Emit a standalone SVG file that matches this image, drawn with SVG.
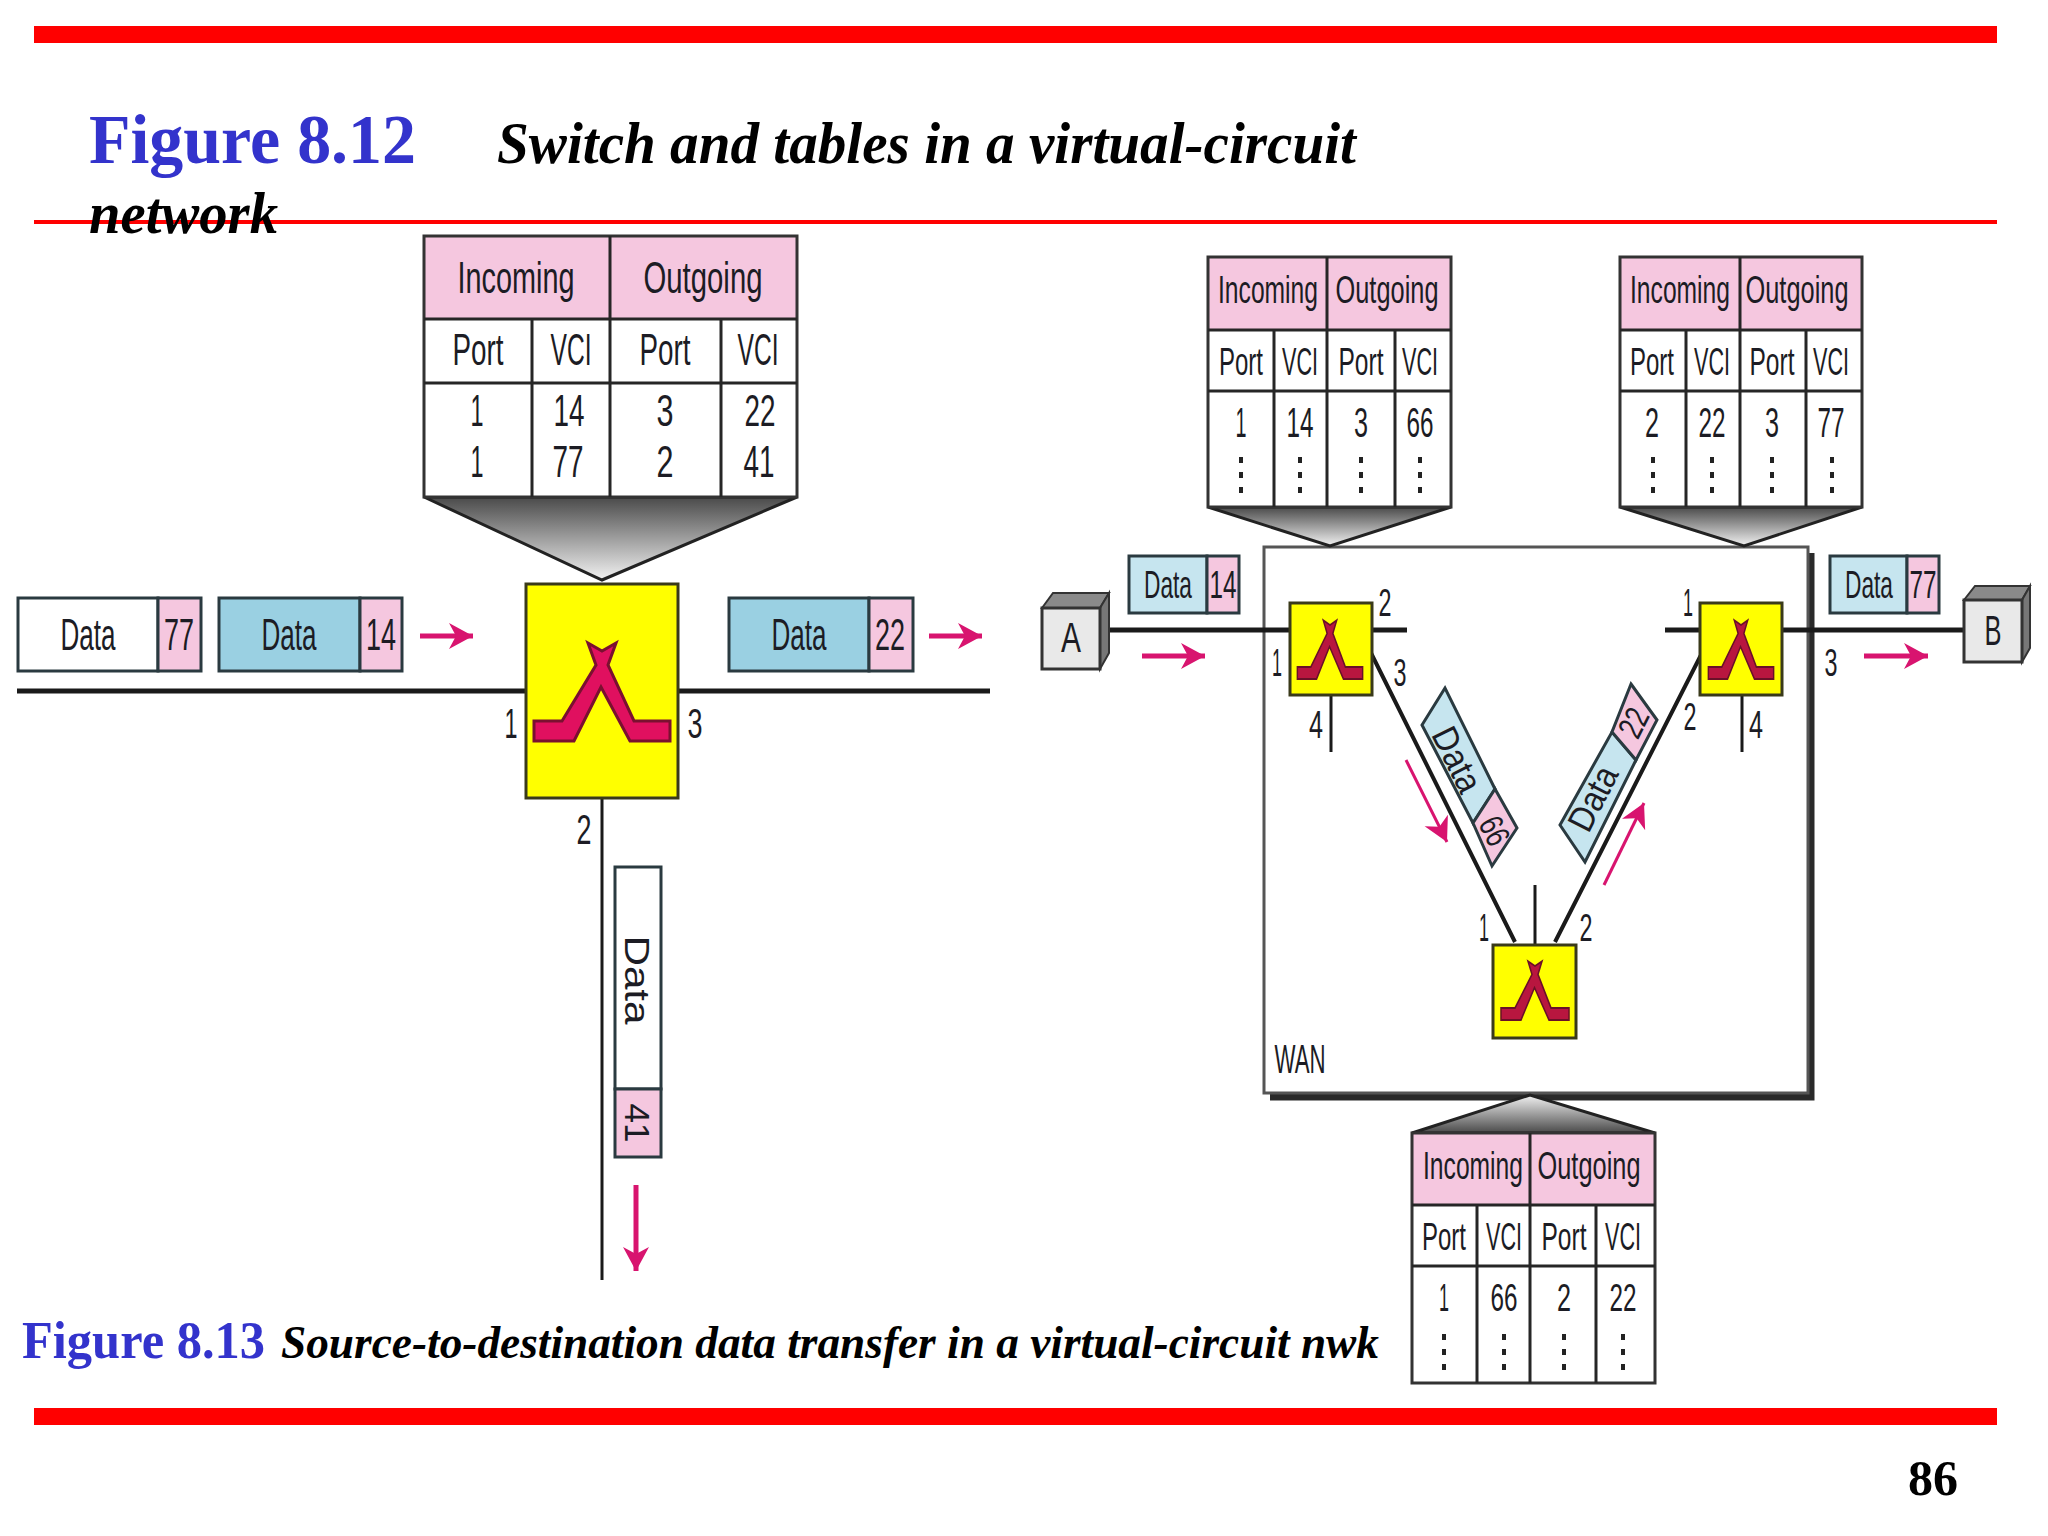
<svg xmlns="http://www.w3.org/2000/svg" width="2048" height="1536" viewBox="0 0 2048 1536">
<style>
.t{font-family:"Liberation Sans Narrow","Liberation Sans",Arial,sans-serif;fill:#1c1c24;text-anchor:middle}
.big{font-size:44px}.mid{font-size:43px}.sm{font-size:39px}
.ser{font-family:"Liberation Serif","Times New Roman",serif;font-weight:700}
.blue{fill:#3333cc}.it{font-style:italic;fill:#000}
.line{stroke:#1a1a1a;fill:none}
.cell{stroke:#262626;stroke-width:3;fill:none}
.frame{stroke:#333;stroke-width:3;fill:none}
.pink{fill:#f5c7df}.white{fill:#fff}.bl1{fill:#9ad0e2}.bl2{fill:#c6e5ef}
.pk{stroke:#2a3a40;stroke-width:3}
.ar{stroke:#d8146f;fill:none;stroke-width:5;marker-end:url(#ah)}
.ar2{stroke:#d8146f;fill:none;stroke-width:3;marker-end:url(#ah)}
.sw{fill:#ffff00;stroke:#3a3a1a;stroke-width:3}
.dot{fill:#222}
</style>
<defs>
<linearGradient id="gd" x1="0" y1="0" x2="0" y2="1"><stop offset="0" stop-color="#4a4a4a"/><stop offset="1" stop-color="#f2f2f2"/></linearGradient>
<linearGradient id="gu" x1="0" y1="1" x2="0" y2="0"><stop offset="0" stop-color="#4a4a4a"/><stop offset="1" stop-color="#f2f2f2"/></linearGradient>
<marker id="ah" markerUnits="userSpaceOnUse" markerWidth="30" markerHeight="30" refX="24" refY="13" orient="auto"><path d="M0 0 L24 13 L0 26 L7 13 Z" fill="#d8146f"/></marker>
<path id="gl" d="M-68 -20 L-40 -20 L-6 -76 L-14 -98 L0 -90 L14 -98 L6 -76 L32 -20 L68 -20 L68 0 L28 0 L-1 -54 L-28 0 L-68 0 Z" fill="#e0105f" stroke="#7a1030" stroke-width="3"/>
<path id="gls" d="M-68 -20 L-40 -20 L-6 -76 L-14 -98 L0 -90 L14 -98 L6 -76 L32 -20 L68 -20 L68 0 L28 0 L-1 -54 L-28 0 L-68 0 Z" fill="#b8163f" stroke="#6a1028" stroke-width="3"/>
</defs>
<rect width="2048" height="1536" fill="#fff"/>

<g id="slide-rules">
<rect x="34" y="26" width="1963" height="17" fill="#ff0000"/>
<rect x="34" y="220" width="1963" height="4" fill="#ff0000"/>
<rect x="34" y="1408" width="1963" height="17" fill="#ff0000"/>
</g>

<g id="titles">
<text x="89" y="163" class="ser blue" font-size="70" textLength="327" lengthAdjust="spacingAndGlyphs">Figure 8.12</text>
<text x="497" y="163" class="ser it" font-size="60" textLength="859" lengthAdjust="spacingAndGlyphs">Switch and tables in a virtual-circuit</text>
<text x="89" y="233" class="ser it" font-size="60" textLength="189" lengthAdjust="spacingAndGlyphs">network</text>
<text x="22" y="1358" class="ser blue" font-size="52" textLength="243" lengthAdjust="spacingAndGlyphs">Figure 8.13</text>
<text x="281" y="1358" class="ser it" font-size="46" textLength="1098" lengthAdjust="spacingAndGlyphs">Source-to-destination data transfer in a virtual-circuit nwk</text>
<text x="1908" y="1495" class="ser" font-size="50" fill="#000">86</text>
</g>

<g id="wan">
<path d="M1270 1097 H1811 V553" fill="none" stroke="#2a2a2a" stroke-width="7"/>
<rect x="1264" y="547" width="544" height="546" fill="#fff" stroke="#555" stroke-width="3"/>
<text x="1300" y="1073" class="t" font-size="40" textLength="51" lengthAdjust="spacingAndGlyphs">WAN</text>
</g>

<g id="connectors">
<path class="line" stroke-width="5" d="M17 691 H526 M679 691 H990"/>
<path class="line" stroke-width="3" d="M602 798 V1280"/>
<path class="line" stroke-width="5" d="M1105 630 H1407 M1665 630 H1968"/>
<path class="line" stroke-width="3" d="M1331 695 V752 M1742 695 V752 M1535 885 V945"/>
<path class="line" stroke-width="4" d="M1371 653 L1515 942 M1702 653 L1555 942"/>
<line class="ar" x1="420" y1="636" x2="473" y2="636"/>
<line class="ar" x1="929" y1="636" x2="982" y2="636"/>
<line class="ar" x1="636" y1="1185" x2="636" y2="1271"/>
<line class="ar" x1="1142" y1="656" x2="1205" y2="656"/>
<line class="ar" x1="1864" y1="656" x2="1928" y2="656"/>
<line class="ar2" x1="1406" y1="760" x2="1447" y2="842"/>
<line class="ar2" x1="1604" y1="885" x2="1644" y2="803"/>
</g>

<g id="table-main">
<path d="M424 497 H797 L602 580 Z" fill="url(#gd)" stroke="#222" stroke-width="3"/>
<rect x="424" y="236" width="373" height="261" class="white"/>
<rect x="424" y="236" width="373" height="83" class="pink"/>
<rect x="424" y="236" width="373" height="261" class="frame"/>
<path class="cell" d="M424 319 H797 M424 383 H797 M610 236 V497 M532 319 V497 M721 319 V497"/>
<text x="516" y="293" class="t big" textLength="117" lengthAdjust="spacingAndGlyphs">Incoming</text>
<text x="703" y="293" class="t big" textLength="119" lengthAdjust="spacingAndGlyphs">Outgoing</text>
<text x="478" y="365" class="t big" textLength="51" lengthAdjust="spacingAndGlyphs">Port</text>
<text x="571" y="365" class="t big" textLength="41" lengthAdjust="spacingAndGlyphs">VCI</text>
<text x="665" y="365" class="t big" textLength="51" lengthAdjust="spacingAndGlyphs">Port</text>
<text x="758" y="365" class="t big" textLength="41" lengthAdjust="spacingAndGlyphs">VCI</text>
<text x="477" y="426" class="t big" textLength="13" lengthAdjust="spacingAndGlyphs">1</text><text x="569" y="426" class="t big" textLength="31" lengthAdjust="spacingAndGlyphs">14</text><text x="665" y="426" class="t big" textLength="17" lengthAdjust="spacingAndGlyphs">3</text><text x="760" y="426" class="t big" textLength="31" lengthAdjust="spacingAndGlyphs">22</text>
<text x="477" y="477" class="t big" textLength="13" lengthAdjust="spacingAndGlyphs">1</text><text x="568" y="477" class="t big" textLength="31" lengthAdjust="spacingAndGlyphs">77</text><text x="665" y="477" class="t big" textLength="17" lengthAdjust="spacingAndGlyphs">2</text><text x="759" y="477" class="t big" textLength="31" lengthAdjust="spacingAndGlyphs">41</text>
</g>

<g id="switch-main">
<rect x="526" y="584" width="152" height="214" class="sw"/>
<use href="#gl" transform="translate(602 741)"/>
<text x="511" y="738" class="t mid" textLength="13" lengthAdjust="spacingAndGlyphs">1</text>
<text x="695" y="738" class="t mid" textLength="15" lengthAdjust="spacingAndGlyphs">3</text>
<text x="584" y="844" class="t mid" textLength="15" lengthAdjust="spacingAndGlyphs">2</text>
</g>

<g id="packets-main">
<rect x="18" y="598" width="140" height="73" class="white pk"/><rect x="158" y="598" width="43" height="73" class="pink pk"/>
<text x="88" y="650" class="t big" textLength="55" lengthAdjust="spacingAndGlyphs">Data</text><text x="179" y="650" class="t big" textLength="30" lengthAdjust="spacingAndGlyphs">77</text>
<rect x="219" y="598" width="141" height="73" class="bl1 pk"/><rect x="360" y="598" width="42" height="73" class="pink pk"/>
<text x="289" y="650" class="t big" textLength="55" lengthAdjust="spacingAndGlyphs">Data</text><text x="381" y="650" class="t big" textLength="30" lengthAdjust="spacingAndGlyphs">14</text>
<rect x="729" y="598" width="140" height="73" class="bl1 pk"/><rect x="869" y="598" width="44" height="73" class="pink pk"/>
<text x="799" y="650" class="t big" textLength="55" lengthAdjust="spacingAndGlyphs">Data</text><text x="890" y="650" class="t big" textLength="30" lengthAdjust="spacingAndGlyphs">22</text>
<rect x="615" y="867" width="46" height="222" class="white pk"/><rect x="615" y="1089" width="46" height="68" class="pink pk"/>
<text transform="translate(625 980) rotate(90)" font-family="Liberation Sans, sans-serif" font-size="35" fill="#1c1c24" text-anchor="middle" textLength="89" lengthAdjust="spacingAndGlyphs">Data</text>
<text transform="translate(625 1123) rotate(90)" font-family="Liberation Sans, sans-serif" font-size="35" fill="#1c1c24" text-anchor="middle">41</text>
</g>

<g id="table-1">
<path d="M1208 507 H1451 L1330 546 Z" fill="url(#gd)" stroke="#222" stroke-width="3"/>
<rect x="1208" y="257" width="243" height="250" class="white"/>
<rect x="1208" y="257" width="243" height="73" class="pink"/>
<rect x="1208" y="257" width="243" height="250" class="frame"/>
<path class="cell" d="M1208 330 H1451 M1208 391 H1451 M1327 257 V507 M1274 330 V507 M1395 330 V507"/>
<text x="1268" y="303" class="t sm" textLength="100" lengthAdjust="spacingAndGlyphs">Incoming</text><text x="1387" y="303" class="t sm" textLength="103" lengthAdjust="spacingAndGlyphs">Outgoing</text>
<text x="1241" y="375" class="t sm" textLength="44" lengthAdjust="spacingAndGlyphs">Port</text><text x="1300" y="375" class="t sm" textLength="36" lengthAdjust="spacingAndGlyphs">VCI</text><text x="1361" y="375" class="t sm" textLength="45" lengthAdjust="spacingAndGlyphs">Port</text><text x="1420" y="375" class="t sm" textLength="36" lengthAdjust="spacingAndGlyphs">VCI</text>
<text x="1241" y="437" class="t mid" textLength="11" lengthAdjust="spacingAndGlyphs">1</text><text x="1300" y="437" class="t mid" textLength="27" lengthAdjust="spacingAndGlyphs">14</text><text x="1361" y="437" class="t mid" textLength="14" lengthAdjust="spacingAndGlyphs">3</text><text x="1420" y="437" class="t mid" textLength="27" lengthAdjust="spacingAndGlyphs">66</text>
<path class="dot" d="M1239 457h4v6h-4zM1239 472h4v6h-4zM1239 487h4v6h-4zM1298 457h4v6h-4zM1298 472h4v6h-4zM1298 487h4v6h-4zM1359 457h4v6h-4zM1359 472h4v6h-4zM1359 487h4v6h-4zM1418 457h4v6h-4zM1418 472h4v6h-4zM1418 487h4v6h-4z"/>
</g>

<g id="table-2">
<path d="M1620 507 H1862 L1744 546 Z" fill="url(#gd)" stroke="#222" stroke-width="3"/>
<rect x="1620" y="257" width="242" height="250" class="white"/>
<rect x="1620" y="257" width="242" height="73" class="pink"/>
<rect x="1620" y="257" width="242" height="250" class="frame"/>
<path class="cell" d="M1620 330 H1862 M1620 391 H1862 M1740 257 V507 M1686 330 V507 M1806 330 V507"/>
<text x="1680" y="303" class="t sm" textLength="100" lengthAdjust="spacingAndGlyphs">Incoming</text><text x="1797" y="303" class="t sm" textLength="103" lengthAdjust="spacingAndGlyphs">Outgoing</text>
<text x="1652" y="375" class="t sm" textLength="44" lengthAdjust="spacingAndGlyphs">Port</text><text x="1712" y="375" class="t sm" textLength="36" lengthAdjust="spacingAndGlyphs">VCI</text><text x="1772" y="375" class="t sm" textLength="45" lengthAdjust="spacingAndGlyphs">Port</text><text x="1831" y="375" class="t sm" textLength="36" lengthAdjust="spacingAndGlyphs">VCI</text>
<text x="1652" y="437" class="t mid" textLength="14" lengthAdjust="spacingAndGlyphs">2</text><text x="1712" y="437" class="t mid" textLength="27" lengthAdjust="spacingAndGlyphs">22</text><text x="1772" y="437" class="t mid" textLength="14" lengthAdjust="spacingAndGlyphs">3</text><text x="1831" y="437" class="t mid" textLength="27" lengthAdjust="spacingAndGlyphs">77</text>
<path class="dot" d="M1651 457h4v6h-4zM1651 472h4v6h-4zM1651 487h4v6h-4zM1710 457h4v6h-4zM1710 472h4v6h-4zM1710 487h4v6h-4zM1770 457h4v6h-4zM1770 472h4v6h-4zM1770 487h4v6h-4zM1830 457h4v6h-4zM1830 472h4v6h-4zM1830 487h4v6h-4z"/>
</g>

<g id="table-3">
<path d="M1412 1133 H1655 L1530 1095 Z" fill="url(#gu)" stroke="#222" stroke-width="3"/>
<rect x="1412" y="1133" width="243" height="250" class="white"/>
<rect x="1412" y="1133" width="243" height="72" class="pink"/>
<rect x="1412" y="1133" width="243" height="250" class="frame"/>
<path class="cell" d="M1412 1205 H1655 M1412 1266 H1655 M1530 1133 V1383 M1477 1205 V1383 M1596 1205 V1383"/>
<text x="1473" y="1179" class="t sm" textLength="100" lengthAdjust="spacingAndGlyphs">Incoming</text><text x="1589" y="1179" class="t sm" textLength="103" lengthAdjust="spacingAndGlyphs">Outgoing</text>
<text x="1444" y="1250" class="t sm" textLength="44" lengthAdjust="spacingAndGlyphs">Port</text><text x="1504" y="1250" class="t sm" textLength="36" lengthAdjust="spacingAndGlyphs">VCI</text><text x="1564" y="1250" class="t sm" textLength="45" lengthAdjust="spacingAndGlyphs">Port</text><text x="1623" y="1250" class="t sm" textLength="36" lengthAdjust="spacingAndGlyphs">VCI</text>
<text x="1444" y="1311" class="t sm" textLength="10" lengthAdjust="spacingAndGlyphs">1</text><text x="1504" y="1311" class="t sm" textLength="27" lengthAdjust="spacingAndGlyphs">66</text><text x="1564" y="1311" class="t sm" textLength="14" lengthAdjust="spacingAndGlyphs">2</text><text x="1623" y="1311" class="t sm" textLength="27" lengthAdjust="spacingAndGlyphs">22</text>
<path class="dot" d="M1442 1334h4v6h-4zM1442 1349h4v6h-4zM1442 1364h4v6h-4zM1502 1334h4v6h-4zM1502 1349h4v6h-4zM1502 1364h4v6h-4zM1562 1334h4v6h-4zM1562 1349h4v6h-4zM1562 1364h4v6h-4zM1621 1334h4v6h-4zM1621 1349h4v6h-4zM1621 1364h4v6h-4z"/>
</g>

<g id="switch-1">
<rect x="1290" y="603" width="82" height="92" class="sw"/>
<use href="#gls" transform="translate(1330 679) scale(.48 .6)"/>
<text x="1277" y="676" class="t sm" textLength="10" lengthAdjust="spacingAndGlyphs">1</text><text x="1385" y="616" class="t sm" textLength="13" lengthAdjust="spacingAndGlyphs">2</text><text x="1400" y="686" class="t sm" textLength="13" lengthAdjust="spacingAndGlyphs">3</text><text x="1316" y="738" class="t sm" textLength="14" lengthAdjust="spacingAndGlyphs">4</text>
</g>
<g id="switch-2">
<rect x="1700" y="603" width="82" height="92" class="sw"/>
<use href="#gls" transform="translate(1741 679) scale(.48 .6)"/>
<text x="1688" y="616" class="t sm" textLength="10" lengthAdjust="spacingAndGlyphs">1</text><text x="1831" y="676" class="t sm" textLength="13" lengthAdjust="spacingAndGlyphs">3</text><text x="1690" y="730" class="t sm" textLength="13" lengthAdjust="spacingAndGlyphs">2</text><text x="1756" y="738" class="t sm" textLength="14" lengthAdjust="spacingAndGlyphs">4</text>
</g>
<g id="switch-3">
<rect x="1493" y="945" width="83" height="93" class="sw"/>
<use href="#gls" transform="translate(1535 1020) scale(.5 .6)"/>
<text x="1484" y="941" class="t sm" textLength="10" lengthAdjust="spacingAndGlyphs">1</text><text x="1586" y="941" class="t sm" textLength="13" lengthAdjust="spacingAndGlyphs">2</text>
</g>

<g id="node-A">
<path d="M1042 608 L1053 593 H1109 L1100 608 Z" fill="#8a8a8a" stroke="#333" stroke-width="2"/>
<path d="M1100 608 L1109 593 V653 L1100 669 Z" fill="#777" stroke="#333" stroke-width="2"/>
<rect x="1042" y="608" width="58" height="61" fill="#e9e9e9" stroke="#333" stroke-width="3"/>
<text x="1071" y="652" class="t mid" textLength="20" lengthAdjust="spacingAndGlyphs">A</text>
</g>
<g id="node-B">
<path d="M1964 600 L1975 586 H2030 L2022 600 Z" fill="#8a8a8a" stroke="#333" stroke-width="2"/>
<path d="M2022 600 L2030 586 V648 L2022 662 Z" fill="#777" stroke="#333" stroke-width="2"/>
<rect x="1964" y="600" width="58" height="62" fill="#e9e9e9" stroke="#333" stroke-width="3"/>
<text x="1993" y="645" class="t mid" textLength="17" lengthAdjust="spacingAndGlyphs">B</text>
</g>

<g id="packets-wan">
<rect x="1129" y="556" width="78" height="57" class="bl2 pk"/><rect x="1207" y="556" width="32" height="57" class="pink pk"/>
<text x="1168" y="598" class="t sm" textLength="48" lengthAdjust="spacingAndGlyphs">Data</text><text x="1223" y="598" class="t sm" textLength="27" lengthAdjust="spacingAndGlyphs">14</text>
<rect x="1830" y="556" width="77" height="57" class="bl2 pk"/><rect x="1907" y="556" width="32" height="57" class="pink pk"/>
<text x="1869" y="598" class="t sm" textLength="48" lengthAdjust="spacingAndGlyphs">Data</text><text x="1923" y="598" class="t sm" textLength="27" lengthAdjust="spacingAndGlyphs">77</text>
<polygon points="1445,688 1422,725 1473,823 1495,789" class="bl2 pk"/>
<polygon points="1473,823 1495,789 1517,828 1492,866" class="pink pk"/>
<text transform="translate(1446 765) rotate(63.5)" class="t" font-size="36" textLength="68" lengthAdjust="spacingAndGlyphs">Data</text>
<text transform="translate(1484 836) rotate(63.5)" class="t" font-size="34" textLength="28" lengthAdjust="spacingAndGlyphs">66</text>
<polygon points="1612,732 1636,760 1585,862 1560,825" class="bl2 pk"/>
<polygon points="1631,684 1657,720 1636,760 1612,732" class="pink pk"/>
<text transform="translate(1604 804) rotate(-63)" class="t" font-size="36" textLength="68" lengthAdjust="spacingAndGlyphs">Data</text>
<text transform="translate(1644 728) rotate(-63)" class="t" font-size="34" textLength="28" lengthAdjust="spacingAndGlyphs">22</text>
</g>
</svg>
